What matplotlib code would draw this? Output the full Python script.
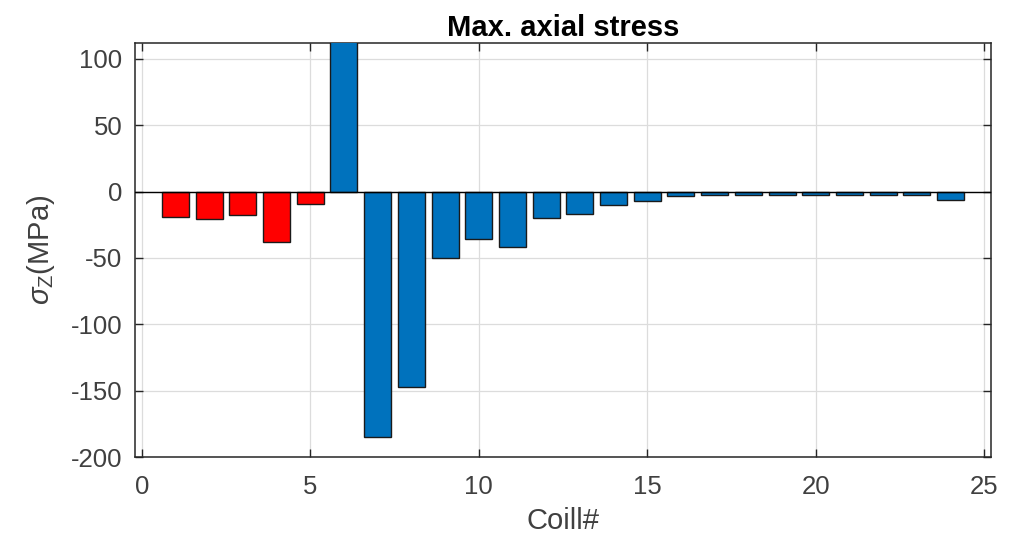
import matplotlib
matplotlib.use("Agg")
import matplotlib.pyplot as plt
import numpy as np

# Maximum axial stress per coil (MPa)
coil_ids = list(range(1, 25))
stress_mpa = [-19, -20.5, -18, -38, -9, 140, -185, -147, -50, -36, -42, -20,
              -17, -10, -7, -3, -2.5, -2.5, -2.5, -2.5, -2.5, -2.5, -2.5, -6]
# First five coils are highlighted in red, the rest in blue
red_coils = [1, 2, 3, 4, 5]

x_ticks = [0, 5, 10, 15, 20, 25]
y_ticks = [-200, -150, -100, -50, 0, 50, 100]

plt.rcParams['font.family'] = ['Liberation Sans', 'DejaVu Sans']
plt.rcParams['mathtext.fontset'] = 'custom'
plt.rcParams['mathtext.rm'] = 'Liberation Sans'
plt.rcParams['mathtext.it'] = 'Liberation Sans:italic'
plt.rcParams['axes.unicode_minus'] = False

axis_color = '#262626'
text_color = '#404040'

fig = plt.figure(figsize=(10.23, 5.42), dpi=100)
ax = fig.add_axes([0.132, 0.1568, 0.8367, 0.7639])

colors = ['#FF0000' if c in red_coils else '#0072BD' for c in coil_ids]
ax.bar(coil_ids, stress_mpa, width=0.8, color=colors, edgecolor='#1a1a1a',
       linewidth=1.0, zorder=3)
ax.axhline(0, color='black', linewidth=1.0, zorder=4)

ax.set_xlim(-0.2, 25.2)
ax.set_ylim(-200, 112)
ax.set_xticks(x_ticks)
ax.set_yticks(y_ticks)

ax.grid(True, color='#dcdcdc', linewidth=0.9, zorder=0)
ax.set_axisbelow(True)
ax.tick_params(direction='in', top=True, right=True, length=6, width=1.0,
               colors=axis_color, labelcolor=text_color, labelsize=18.5)
ax.tick_params(axis='x', pad=13)
ax.tick_params(axis='y', pad=9)
for s in ax.spines.values():
    s.set_color(axis_color)
    s.set_linewidth(1.1)

ax.set_title('Max. axial stress', fontsize=21, fontweight='bold', color='black', pad=5)
ax.set_xlabel('Coill#', fontsize=21, color=text_color, labelpad=6)
ax.set_ylabel(r'$\sigma_{\mathrm{Z}}$(MPa)', fontsize=21, color=text_color, labelpad=10)

fig.savefig('out.png', dpi=100)
